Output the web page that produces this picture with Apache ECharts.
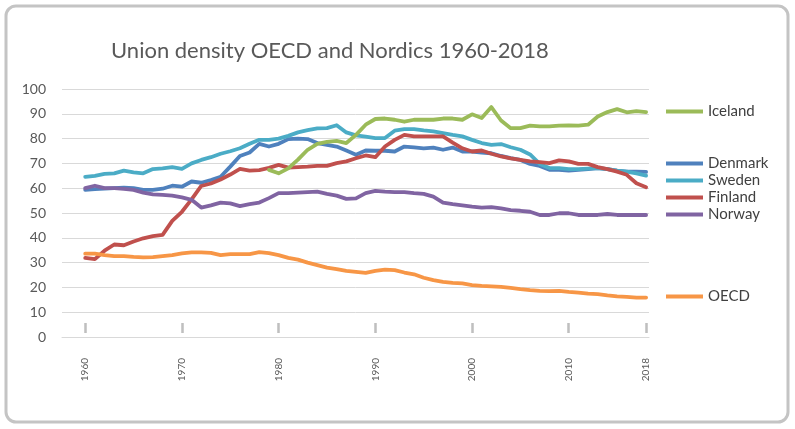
<!DOCTYPE html>
<html>
<head>
<meta charset="utf-8">
<script src="https://cdn.jsdelivr.net/npm/echarts@6/dist/echarts.min.js"></script>
</head>
<body style="margin:0;background:#fff">
<div id="container" style="width:795px;height:429px"></div>
<script>
var years = [1960, 1961, 1962, 1963, 1964, 1965, 1966, 1967, 1968, 1969,
    1970, 1971, 1972, 1973, 1974, 1975, 1976, 1977, 1978, 1979,
    1980, 1981, 1982, 1983, 1984, 1985, 1986, 1987, 1988, 1989,
    1990, 1991, 1992, 1993, 1994, 1995, 1996, 1997, 1998, 1999,
    2000, 2001, 2002, 2003, 2004, 2005, 2006, 2007, 2008, 2009,
    2010, 2011, 2012, 2013, 2014, 2015, 2016, 2017, 2018];
var yearLabels = [1960, 1970, 1980, 1990, 2000, 2010, 2018];

var denmark = [59.3, 59.6, 59.8, 60, 60.2, 60, 59.3, 59.3, 59.8, 61,
    60.6, 62.7, 62.2, 63.3, 64.6, 68.7, 73, 74.4, 77.9, 76.8,
    77.9, 79.8, 80, 79.8, 78.2, 77.5, 76.8, 75.2, 73.5, 75.2,
    75.1, 75.1, 74.8, 76.8, 76.5, 76.1, 76.4, 75.5, 76.4, 74.8,
    74.8, 74.4, 74.1, 73, 72.1, 71.4, 69.8, 69, 67.4, 67.4,
    67.1, 67.4, 67.7, 68.1, 67.7, 67.1, 66.7, 66.7, 66.6];
var sweden = [64.6, 65, 65.8, 66, 67.1, 66.4, 66, 67.7, 68, 68.5,
    67.8, 70, 71.4, 72.5, 73.9, 74.9, 76.1, 77.9, 79.5, 79.5,
    80, 81.1, 82.5, 83.4, 84.1, 84.2, 85.4, 82.5, 81.3, 80.8,
    80.2, 80.2, 83.2, 83.8, 83.8, 83.3, 82.9, 82.2, 81.5, 80.9,
    79.5, 78.2, 77.5, 77.8, 76.5, 75.5, 73.6, 69.8, 68.1, 68.1,
    67.7, 67.7, 67.9, 68.1, 67.7, 67.1, 66.7, 66, 65.1];
var finland = [31.9, 31.4, 34.8, 37.3, 37, 38.5, 39.8, 40.7, 41.2, 46.8,
    50.5, 55.5, 60.9, 61.9, 63.5, 65.5, 67.8, 67.1, 67.3, 68.2,
    69.4, 68.3, 68.5, 68.7, 69, 69, 70.1, 70.8, 72.1, 73.2,
    72.5, 76.8, 79.5, 81.5, 80.9, 80.9, 80.9, 80.9, 78.4, 76.1,
    74.8, 75.2, 73.9, 72.8, 72, 71.4, 70.8, 70.5, 70.1, 71.2,
    70.8, 69.8, 69.8, 68.5, 67.7, 66.7, 65.4, 62, 60.4];
var norway = [60, 61, 60, 60, 59.7, 59.3, 58.2, 57.5, 57.3, 57,
    56.3, 55.3, 52.2, 53.1, 54.2, 53.9, 52.8, 53.6, 54.2, 56,
    58, 58, 58.2, 58.4, 58.6, 57.7, 57, 55.7, 55.9, 58,
    58.9, 58.6, 58.4, 58.4, 58, 57.7, 56.6, 54.2, 53.6, 53.1,
    52.6, 52.2, 52.4, 51.9, 51.2, 50.9, 50.5, 49.2, 49.2, 49.9,
    49.9, 49.2, 49.2, 49.2, 49.6, 49.2, 49.2, 49.2, 49.2];
var oecd = [33.6, 33.6, 33, 32.6, 32.6, 32.3, 32.1, 32.2, 32.6, 33,
    33.7, 34.1, 34.1, 33.9, 33, 33.4, 33.4, 33.4, 34.2, 33.8,
    33, 31.9, 31.2, 30, 29, 28, 27.4, 26.7, 26.3, 25.9,
    26.7, 27.2, 27, 26, 25.3, 23.9, 22.9, 22.2, 21.8, 21.6,
    20.9, 20.6, 20.4, 20.2, 19.8, 19.3, 18.9, 18.6, 18.5, 18.6,
    18.2, 17.9, 17.5, 17.3, 16.8, 16.4, 16.2, 15.9, 15.9];
// Iceland series only starts in 1979
var iceland = [null, null, null, null, null, null, null, null, null, null,
    null, null, null, null, null, null, null, null, null, 67.4,
    66, 68, 71.5, 75.5, 77.9, 78.7, 79.1, 78.2, 81.5, 85.6,
    87.9, 88.1, 87.6, 86.8, 87.6, 87.6, 87.6, 88.1, 88.1, 87.6,
    89.8, 88.3, 92.7, 87.3, 84.2, 84.2, 85.2, 84.9, 84.9, 85.2,
    85.3, 85.2, 85.6, 88.9, 90.7, 91.9, 90.6, 91.1, 90.7];

function pairs(values) {
    var out = [];
    for (var i = 0; i < years.length; i++) {
        out.push([years[i], values[i]]);
    }
    return out;
}

function lineSeries(name, values, color) {
    return {
        name: name,
        type: 'line',
        data: pairs(values),
        showSymbol: false,
        symbol: 'none',
        connectNulls: false,
        lineStyle: { color: color, width: 3.8, cap: 'round', join: 'round' },
        itemStyle: { color: color },
        emphasis: { disabled: true },
        animation: false
    };
}

// one legend per line so each label can sit next to its line end
function legendAt(name, top) {
    return {
        data: [name],
        left: 666,
        top: top,
        padding: 0,
        icon: 'rect',
        itemWidth: 37,
        itemHeight: 4,
        selectedMode: false,
        textStyle: { fontFamily: 'Lato', fontSize: 15, color: '#404040' }
    };
}

var chart = echarts.init(document.getElementById('container'), null, { renderer: 'canvas' });

var option = {
    animation: false,
    backgroundColor: '#ffffff',
    title: {
        text: 'Union density OECD and Nordics 1960-2018',
        left: 111,
        top: 40,
        padding: 0,
        textStyle: { fontFamily: 'Lato', fontSize: 22, fontWeight: 'normal', color: '#595959' }
    },
    graphic: [{
        type: 'rect',
        shape: { x: 6, y: 6, width: 782, height: 416, r: 10 },
        style: { fill: 'none', stroke: '#c4c4c4', lineWidth: 3 },
        silent: true
    }],
    grid: { left: 62, right: 146, top: 89, bottom: 92 },
    legend: [
        legendAt('Iceland', 104),
        legendAt('Denmark', 156),
        legendAt('Sweden', 173),
        legendAt('Finland', 190),
        legendAt('Norway', 207),
        legendAt('OECD', 289)
    ],
    xAxis: [{
        type: 'value',
        min: 1957.6,
        max: 2018.3,
        splitLine: { show: false },
        axisLine: { show: true, lineStyle: { color: '#d9d9d9', width: 1 } },
        axisTick: { show: false },
        axisLabel: {
            show: true,
            customValues: yearLabels,
            rotate: 90,
            margin: 21,
            fontFamily: 'Lato',
            fontSize: 10,
            color: '#595959',
            formatter: function (v) { return String(v); }
        }
    }, {
        // tick marks float a little above the axis line
        type: 'value',
        position: 'bottom',
        offset: -4,
        min: 1957.6,
        max: 2018.3,
        splitLine: { show: false },
        axisLine: { show: false },
        axisLabel: { show: false },
        axisTick: {
            show: true,
            inside: true,
            length: 10,
            customValues: yearLabels,
            lineStyle: { color: '#bfbfbf', width: 2.5 }
        }
    }],
    yAxis: {
        type: 'value',
        min: 0,
        max: 100,
        interval: 10,
        axisLine: { show: false },
        axisTick: { show: false },
        splitLine: { lineStyle: { color: '#d9d9d9', width: 1 } },
        axisLabel: { margin: 16, fontFamily: 'Lato', fontSize: 14, color: '#595959' }
    },
    series: [
        lineSeries('Denmark', denmark, '#4f81bd'),
        lineSeries('Sweden', sweden, '#4bacc6'),
        lineSeries('Finland', finland, '#c0504d'),
        lineSeries('Norway', norway, '#8064a2'),
        lineSeries('OECD', oecd, '#f79646'),
        lineSeries('Iceland', iceland, '#9bbb59')
    ]
};

chart.setOption(option);
window.addEventListener('resize', chart.resize);
</script>
</body>
</html>
